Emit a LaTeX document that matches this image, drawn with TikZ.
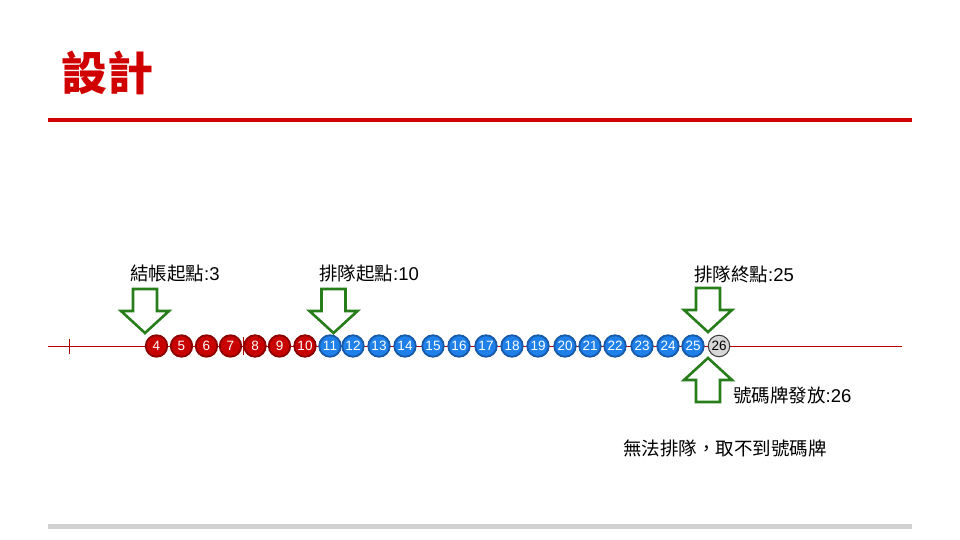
\documentclass[tikz,border=0pt]{standalone}
\usepackage{fontspec}
\setmainfont{Liberation Sans}
\newfontfamily\cjk{Noto Sans CJK TC}
\definecolor{titlered}{RGB}{208,0,0}
\definecolor{ballred}{RGB}{200,0,0}
\definecolor{ballredd}{RGB}{140,0,0}
\definecolor{ballblue}{RGB}{30,128,232}
\definecolor{ballblued}{RGB}{24,90,170}
\definecolor{ballgrey}{RGB}{215,215,215}
\definecolor{ballgreyd}{RGB}{60,60,60}
\definecolor{arrowgreen}{RGB}{38,125,26}
\definecolor{axisred}{RGB}{180,0,0}
\definecolor{footgrey}{RGB}{210,210,210}
\tikzset{
  ball/.style={circle,minimum size=21.5pt,inner sep=0pt,line width=1.8pt,font=\fontsize{13.5}{13.5}\selectfont},
  redball/.style={ball,fill=ballred,draw=ballredd,text=white},
  blueball/.style={ball,fill=ballblue,draw=ballblued,text=white},
  greyball/.style={ball,fill=ballgrey,draw=ballgreyd,line width=1pt,text=black},
  label/.style={anchor=west,inner sep=0pt,font=\fontsize{18.5}{18.5}\selectfont},
  garrow/.style={draw=arrowgreen,line width=2.6pt,fill=white,line join=miter},
}
\newcommand\gdown[2]{% center x, tip y
  \draw[garrow] (#1-12,#2-44) -- (#1+12,#2-44) -- (#1+12,#2-22) -- (#1+24,#2-22) -- (#1,#2) -- (#1-24,#2-22) -- (#1-12,#2-22) -- cycle;}
\newcommand\gup[2]{%
  \draw[garrow] (#1-12,#2+44) -- (#1+12,#2+44) -- (#1+12,#2+22) -- (#1+24,#2+22) -- (#1,#2) -- (#1-24,#2+22) -- (#1-12,#2+22) -- cycle;}
\begin{document}
\begin{tikzpicture}[x=1pt,y=-1pt]
\useasboundingbox (0,0) rectangle (960,540);
\fill[white] (0,0) rectangle (960,540);
% title
\node[anchor=west,inner sep=0pt,text=titlered,font=\cjk\bfseries\fontsize{46}{46}\selectfont] (title) at (61,73) {設計};
\fill[titlered] (48,118) rectangle (912,122.5);
\fill[footgrey] (48,524) rectangle (912,528.5);
% axis
\coordinate (axl) at (48,346);
\coordinate (axr) at (902,346);
\draw[axisred,line width=0.8pt] (axl) -- (axr);
\coordinate (tk1) at (69,339); \coordinate (tk2) at (69,354);
\draw[axisred,line width=0.8pt] (tk1) -- (tk2);
\coordinate (tk3) at (243,337); \coordinate (tk4) at (243,355);
\draw[axisred,line width=0.8pt] (tk3) -- (tk4);
% balls
\foreach \n/\x in {4/156.5,5/181.5,6/206.5,7/230.5,8/255,9/279.5,10/305}
  \node[redball] (c\n) at (\x,346) {\n};
\foreach \n/\x in {11/330,12/353,13/379,14/405,15/433,16/459,17/486,18/512,19/538,20/565,21/590,22/615,23/642,24/668,25/693}
  \node[blueball] (c\n) at (\x,346) {\n};
\node[greyball] (c26) at (719,346) {26};
% arrows
\gdown{145}{333}
\gdown{333.5}{333}
\gdown{708}{332}
\gup{708}{358}
% labels
\node[label] (l1) at (130,274) {{\cjk 結帳起點}:3};
\node[label] (l2) at (319,274) {{\cjk 排隊起點}:10};
\node[label] (l3) at (694,274) {{\cjk 排隊終點}:25};
\node[label] (l4) at (733,395) {{\cjk 號碼牌發放}:26};
\node[label] (l5) at (623,448) {\cjk 無法排隊，取不到號碼牌};
\end{tikzpicture}
\end{document}
